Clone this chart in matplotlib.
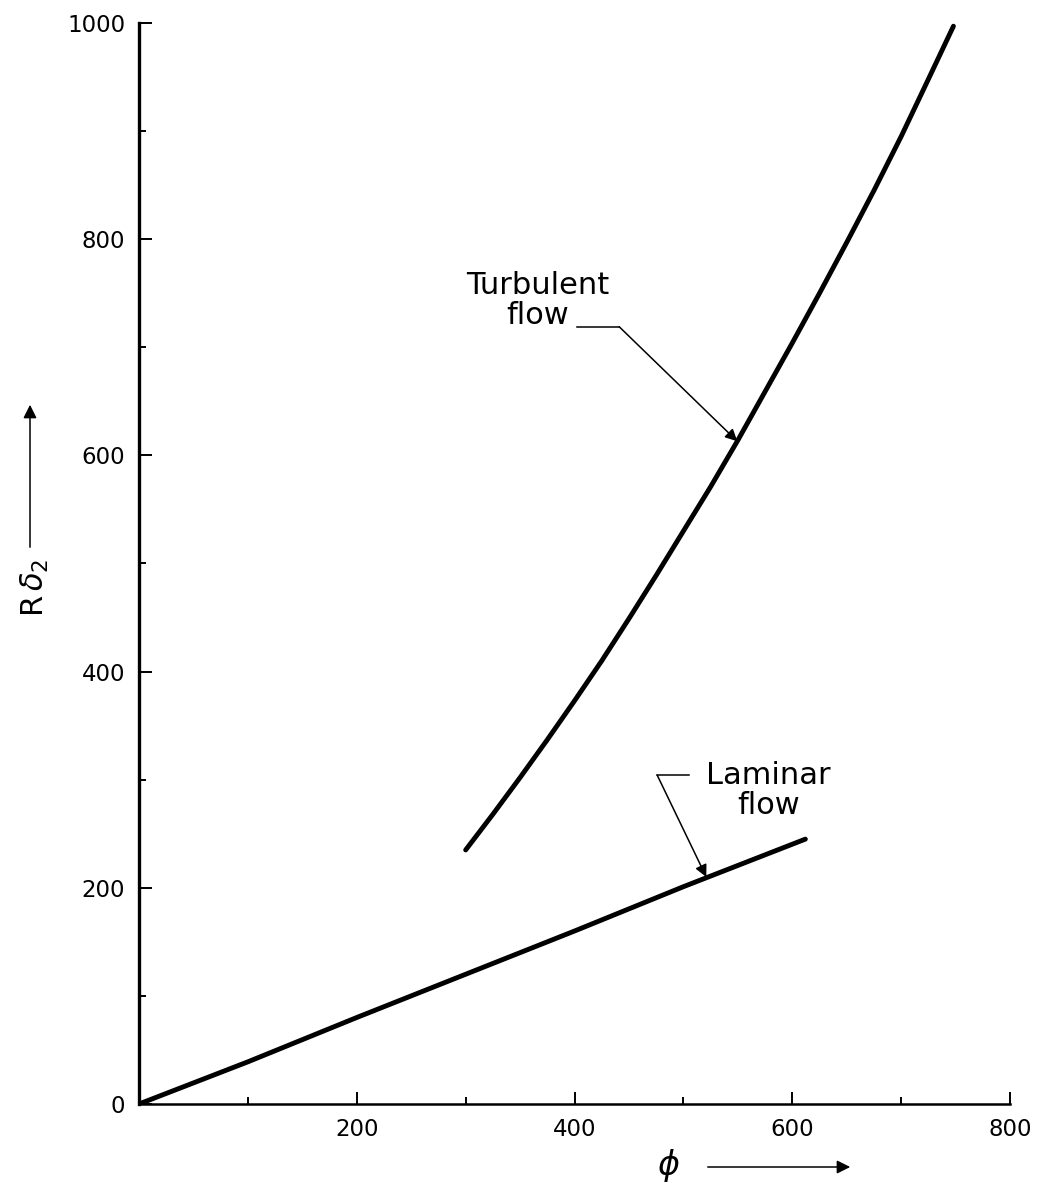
import matplotlib
matplotlib.use("Agg")
import matplotlib.pyplot as plt
from matplotlib.patches import FancyArrowPatch
from matplotlib.ticker import MultipleLocator

plt.rcParams['font.family'] = ['DejaVu Sans']
plt.rcParams['mathtext.fontset'] = 'dejavusans'

# Laminar boundary layer: R*delta_2 against phi
laminar_phi = [0, 100, 200, 300, 400, 500, 612]
laminar_rd2 = [0, 39, 80, 120, 160, 201, 245]

# Turbulent boundary layer: R*delta_2 against phi
turbulent_phi = [300, 325, 350, 375, 400, 425, 450, 475, 500, 525, 550,
                 575, 600, 625, 650, 675, 700, 725, 748]
turbulent_rd2 = [235, 268, 302, 337, 373, 410, 449, 489, 530, 571, 614,
                 659, 704, 750, 797, 845, 895, 948, 997]

x_major = [200, 400, 600, 800]
y_major = [0, 200, 400, 600, 800, 1000]

fig = plt.figure(figsize=(10.4, 11.83), dpi=100)
ax = fig.add_axes([0.1337, 0.0668, 0.8375, 0.9138])

ax.plot(laminar_phi, laminar_rd2, color='black', lw=3.5, solid_capstyle='round')
ax.plot(turbulent_phi, turbulent_rd2, color='black', lw=3.5, solid_capstyle='round')

ax.set_xlim(0, 800)
ax.set_ylim(0, 1000)
ax.set_xticks(x_major)
ax.set_yticks(y_major)
ax.xaxis.set_minor_locator(MultipleLocator(100))
ax.yaxis.set_minor_locator(MultipleLocator(100))
ax.tick_params(which='major', direction='in', length=9, width=1.4, labelsize=16.5, pad=10)
ax.tick_params(which='minor', direction='in', length=5, width=1.4)
ax.tick_params(axis='x', which='major', pad=10)

for side in ('top', 'right'):
    ax.spines[side].set_visible(False)
ax.spines['left'].set_linewidth(2.4)
ax.spines['bottom'].set_linewidth(1.8)

# Curve labels with leader arrows
arrow_kw = dict(arrowstyle='-|>', color='black', lw=1.1, mutation_scale=18,
                shrinkA=0, shrinkB=0)
ax.text(366, 743, 'Turbulent\nflow', ha='center', va='center', fontsize=22,
        linespacing=1.05)
ax.plot([402, 441], [719, 719], color='black', lw=1.1)
ax.annotate('', xy=(549.5, 613), xytext=(441, 719), arrowprops=arrow_kw)

ax.text(578, 290, 'Laminar\nflow', ha='center', va='center', fontsize=22,
        linespacing=1.05)
ax.plot([476, 505], [304, 304], color='black', lw=1.1)
ax.annotate('', xy=(521, 210), xytext=(476, 304), arrowprops=arrow_kw)

# Axis titles with direction arrows
fig.text(35 / 1040, 1 - 588 / 1183, r'R$\,\delta_2$', rotation=90,
         ha='center', va='center', fontsize=22)
fig.add_artist(FancyArrowPatch(
    (30 / 1040, 1 - 550 / 1183), (30 / 1040, 1 - 402 / 1183),
    transform=fig.transFigure, arrowstyle='-|>', mutation_scale=20,
    color='black', lw=1.1))

fig.text(668 / 1040, 1 - 1165 / 1183, r'$\phi$', ha='center', va='center',
         fontsize=24)
fig.add_artist(FancyArrowPatch(
    (705 / 1040, 1 - 1167 / 1183), (853 / 1040, 1 - 1167 / 1183),
    transform=fig.transFigure, arrowstyle='-|>', mutation_scale=20,
    color='black', lw=1.1))

fig.savefig('out.png', dpi=100, facecolor='white')
